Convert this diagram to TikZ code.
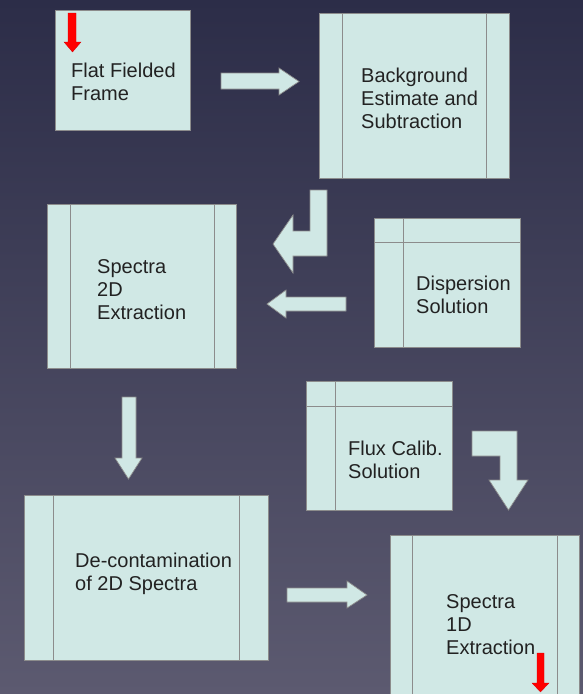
\documentclass[tikz,border=0pt]{standalone}
\usepackage{fontspec}
\setmainfont{Liberation Sans}
\usetikzlibrary{calc}
\definecolor{boxfill}{HTML}{D0E8E5}
\definecolor{boxline}{HTML}{8C8C8C}
\definecolor{bgtop}{RGB}{44,45,72}
\definecolor{bgbot}{RGB}{92,90,112}
\definecolor{txt}{HTML}{222222}
\begin{document}
\begin{tikzpicture}[x=1pt,y=-1pt,
  box/.style={draw=boxline,fill=boxfill,line width=0.9pt,inner sep=0pt,outer sep=0pt,anchor=north west},
  lbl/.style={anchor=west,align=left,inner sep=0pt,text=txt,font=\fontsize{20}{23}\selectfont},
  blk/.style={draw=boxline,fill=boxfill,line width=0.7pt,line join=miter},
  redarr/.style={fill=red,draw=red!85!black,line width=0.3pt},
  sep/.style={draw=boxline,line width=0.9pt}]
\useasboundingbox (0,0) rectangle (583,694);
\clip (0,0) rectangle (583,694);
\shade[top color=bgtop,bottom color=bgbot] (0,0) rectangle (583,694);

% boxes
\node[box,minimum width=135pt,minimum height=120pt] (b1) at (55,10) {};
\node[box,minimum width=190pt,minimum height=165pt] (b2) at (319,13) {};
\draw[sep] ($(b2.north west)+(23,0)$) -- ($(b2.south west)+(23,0)$);
\draw[sep] ($(b2.north east)+(-23,0)$) -- ($(b2.south east)+(-23,0)$);
\node[box,minimum width=189pt,minimum height=164pt] (b3) at (47,204) {};
\draw[sep] ($(b3.north west)+(23,0)$) -- ($(b3.south west)+(23,0)$);
\draw[sep] ($(b3.north east)+(-22,0)$) -- ($(b3.south east)+(-22,0)$);
\node[box,minimum width=146pt,minimum height=129pt] (b4) at (374,218) {};
\draw[sep] ($(b4.north west)+(29,0)$) -- ($(b4.south west)+(29,0)$);
\draw[sep] ($(b4.north west)+(0,24)$) -- ($(b4.north east)+(0,24)$);
\node[box,minimum width=146pt,minimum height=129pt] (b5) at (306,381) {};
\draw[sep] ($(b5.north west)+(29,0)$) -- ($(b5.south west)+(29,0)$);
\draw[sep] ($(b5.north west)+(0,25)$) -- ($(b5.north east)+(0,25)$);
\node[box,minimum width=244pt,minimum height=165pt] (b6) at (24,495) {};
\draw[sep] ($(b6.north west)+(29,0)$) -- ($(b6.south west)+(29,0)$);
\draw[sep] ($(b6.north east)+(-29,0)$) -- ($(b6.south east)+(-29,0)$);
\node[box,minimum width=189pt,minimum height=175pt] (b7) at (390,535) {};
\draw[sep] ($(b7.north west)+(22,0)$) -- ($(b7.south west)+(22,0)$);
\draw[sep] ($(b7.north east)+(-22,0)$) -- ($(b7.south east)+(-22,0)$);

% labels
\node[lbl] (t1) at (71,81.5) {Flat Fielded\\Frame};
\node[lbl] (t2) at (361,98.5) {Background\\Estimate and\\Subtraction};
\node[lbl] (t3) at (97,290) {Spectra\\2D\\Extraction};
\node[lbl] (t4) at (416,295) {Dispersion\\Solution};
\node[lbl] (t5) at (348,460) {Flux Calib.\\Solution};
\node[lbl] (t6) at (75,574) {De-contamination\\of 2D Spectra};
\node[lbl] (t7) at (446,625) {Spectra\\1D\\Extraction};

% block arrows
\draw[blk] (221,73) -- (279,73) -- (279,68) -- (299,81.5) -- (279,95) -- (279,89) -- (221,89) -- cycle;
\draw[blk] (310,190) -- (327,190) -- (327,256) -- (293,256) -- (293,273) -- (273,244) -- (293,215) -- (293,231) -- (310,231) -- cycle;
\draw[blk] (346,297) -- (286,297) -- (286,290) -- (267,304) -- (286,318) -- (286,311) -- (346,311) -- cycle;
\draw[blk] (122,397) -- (136,397) -- (136,458) -- (142,458) -- (128.5,479) -- (115,458) -- (122,458) -- cycle;
\draw[blk] (472,431) -- (517,431) -- (517,480) -- (528,480) -- (508.5,510) -- (489,480) -- (500,480) -- (500,456) -- (472,456) -- cycle;
\draw[blk] (287,588) -- (347,588) -- (347,581) -- (367,595) -- (347,608) -- (347,602) -- (287,602) -- cycle;

% red arrows
\draw[redarr] (68,13) -- (76,13) -- (76,42) -- (81,42) -- (72.5,52) -- (64,42) -- (68,42) -- cycle;
\draw[redarr] (537,653) -- (544,653) -- (544,683) -- (549,683) -- (540.5,692) -- (532,683) -- (537,683) -- cycle;
\end{tikzpicture}
\end{document}
